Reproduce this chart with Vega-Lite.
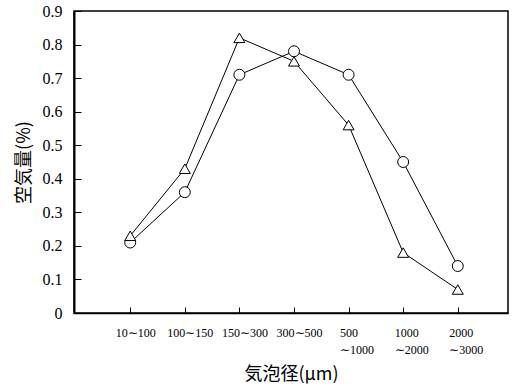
{
  "$schema": "https://vega.github.io/schema/vega-lite/v6.json",
  "width": 434,
  "height": 302,
  "autosize": {"type": "none"},
  "padding": {"left": 74, "top": 11, "right": 4, "bottom": 76},
  "background": "white",
  "config": {
    "view": {"stroke": "black", "strokeWidth": 1.5},
    "font": "Liberation Serif, Times New Roman, serif",
    "axis": {"labelFont": "Liberation Serif, Times New Roman, serif"}
  },
  "data": {
    "values": [
      {"i": 1, "s": "circle", "v": 0.21},
      {"i": 2, "s": "circle", "v": 0.36},
      {"i": 3, "s": "circle", "v": 0.71},
      {"i": 4, "s": "circle", "v": 0.78},
      {"i": 5, "s": "circle", "v": 0.71},
      {"i": 6, "s": "circle", "v": 0.45},
      {"i": 7, "s": "circle", "v": 0.14},
      {"i": 1, "s": "triangle", "v": 0.23},
      {"i": 2, "s": "triangle", "v": 0.43},
      {"i": 3, "s": "triangle", "v": 0.82},
      {"i": 4, "s": "triangle", "v": 0.75},
      {"i": 5, "s": "triangle", "v": 0.56},
      {"i": 6, "s": "triangle", "v": 0.18},
      {"i": 7, "s": "triangle", "v": 0.07}
    ]
  },
  "encoding": {
    "x": {
      "field": "i", "type": "quantitative",
      "scale": {"domain": [-0.03, 7.92], "nice": false, "zero": false},
      "axis": {
        "title": "気泡径(μm)",
        "titleFont": "Noto Sans CJK JP",
        "titleFontSize": 18,
        "titleFontWeight": "normal",
        "titleColor": "black",
        "titlePadding": 10,
        "values": [1, 2, 3, 4, 5, 6, 7],
        "labelExpr": "[ '', '10∼100', '100∼150', '150∼300', '300∼500', ['500', '∼1000'], ['1000', '∼2000'], ['2000', '∼3000'] ][datum.value]",
        "labelFont": "Liberation Serif, Times New Roman, serif",
        "labelFontSize": 12,
        "labelColor": "black",
        "labelAlign": {"condition": {"test": "datum.value >= 5", "value": "left"}, "value": "center"},
        "labelOffset": {"condition": {"test": "datum.value >= 5", "value": -9}, "value": 5},
        "labelLineHeight": 17,
        "labelPadding": 20,
        "labelFlush": false,
        "labelOverlap": false,
        "tickSize": -6,
        "tickColor": "black",
        "domainColor": "black",
        "domainWidth": 1.5,
        "grid": false
      }
    },
    "y": {
      "field": "v", "type": "quantitative",
      "scale": {"domain": [0, 0.9], "nice": false},
      "axis": {
        "title": "空気量(%)",
        "titleFont": "Noto Sans CJK JP",
        "titleFontSize": 18,
        "titleFontWeight": "normal",
        "titleColor": "black",
        "titlePadding": 9,
        "values": [0, 0.1, 0.2, 0.3, 0.4, 0.5, 0.6, 0.7, 0.8, 0.9],
        "labelExpr": "datum.value == 0 ? '0' : format(datum.value, '.1f')",
        "labelFont": "Liberation Serif, Times New Roman, serif",
        "labelFontSize": 16,
        "labelColor": "black",
        "labelPadding": 19,
        "labelFlush": false,
        "tickSize": -7,
        "tickColor": "black",
        "domainColor": "black",
        "domainWidth": 2,
        "grid": false
      }
    }
  },
  "layer": [
    {
      "mark": {"type": "line", "color": "black", "strokeWidth": 1},
      "encoding": {"detail": {"field": "s"}}
    },
    {
      "mark": {"type": "point", "filled": false, "fill": "white", "fillOpacity": 1, "stroke": "black", "strokeWidth": 1, "opacity": 1, "size": 120},
      "encoding": {
        "shape": {
          "field": "s", "type": "nominal",
          "scale": {"domain": ["circle", "triangle"], "range": ["circle", "triangle-up"]},
          "legend": null
        }
      }
    }
  ]
}
